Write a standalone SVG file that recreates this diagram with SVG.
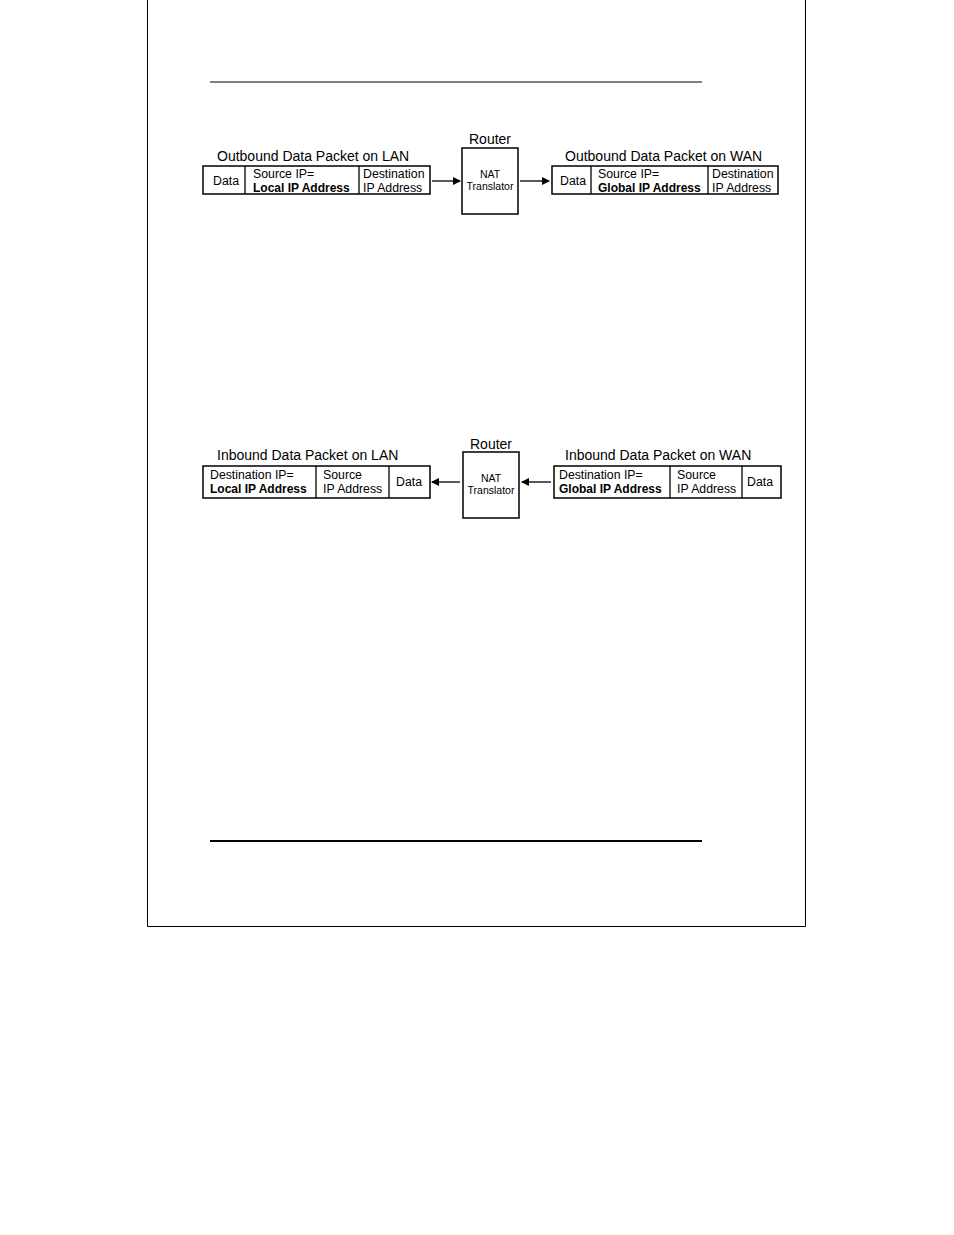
<svg xmlns="http://www.w3.org/2000/svg" width="954" height="1235" viewBox="0 0 954 1235">
<style>
.b{fill:#fff;stroke:#000;stroke-width:1.5}
.l{stroke:#000;stroke-width:1.3}
text{font-family:"Liberation Sans",Arial,sans-serif;fill:#000}
.t{font-size:14px}
.s{font-size:12.3px}
.k{font-size:12px;font-weight:bold}
.n{font-size:10.5px;text-anchor:middle}
</style>
<defs><marker id="a" markerWidth="8" markerHeight="8" refX="7" refY="4" orient="auto" markerUnits="userSpaceOnUse"><path d="M0,0L8,4L0,8z"/></marker></defs>
<rect width="954" height="1235" fill="#fff"/>
<path d="M147.5,0V926.5H805.5V0" fill="none" stroke="#000"/>
<line x1="210" y1="82" x2="702" y2="82" stroke="#000" stroke-width="1.2"/>
<line x1="210" y1="841" x2="702" y2="841" stroke="#000" stroke-width="1.8"/>
<g id="out-lan">
<text x="217" y="161" class="t">Outbound Data Packet on LAN</text>
<rect x="203" y="166" width="227" height="28" class="b"/>
<line x1="245" y1="166" x2="245" y2="194" class="l"/><line x1="359" y1="166" x2="359" y2="194" class="l"/>
<text x="213" y="185" class="s">Data</text>
<text x="253" y="178" class="s">Source IP=</text><text x="253" y="192" class="k">Local IP Address</text>
<text x="363" y="178" class="s">Destination</text><text x="363" y="192" class="s">IP Address</text>
</g>
<g id="router1">
<text x="490" y="144" class="t" text-anchor="middle">Router</text>
<rect x="462" y="148" width="56" height="66" class="b"/>
<text x="490" y="178" class="n">NAT</text><text x="490" y="190" class="n">Translator</text>
</g>
<g id="out-wan">
<text x="565" y="161" class="t">Outbound Data Packet on WAN</text>
<rect x="552" y="166" width="226" height="28" class="b"/>
<line x1="591" y1="166" x2="591" y2="194" class="l"/><line x1="708" y1="166" x2="708" y2="194" class="l"/>
<text x="560" y="185" class="s">Data</text>
<text x="598" y="178" class="s">Source IP=</text><text x="598" y="192" class="k">Global IP Address</text>
<text x="712" y="178" class="s">Destination</text><text x="712" y="192" class="s">IP Address</text>
</g>
<g id="in-lan">
<text x="217" y="460" class="t">Inbound Data Packet on LAN</text>
<rect x="203" y="466" width="227" height="32" class="b"/>
<line x1="316" y1="466" x2="316" y2="498" class="l"/><line x1="389" y1="466" x2="389" y2="498" class="l"/>
<text x="210" y="479" class="s">Destination IP=</text><text x="210" y="493" class="k">Local IP Address</text>
<text x="323" y="479" class="s">Source</text><text x="323" y="493" class="s">IP Address</text>
<text x="396" y="486" class="s">Data</text>
</g>
<g id="router2">
<text x="491" y="449" class="t" text-anchor="middle">Router</text>
<rect x="463" y="452" width="56" height="66" class="b"/>
<text x="491" y="482" class="n">NAT</text><text x="491" y="494" class="n">Translator</text>
</g>
<g id="in-wan">
<text x="565" y="460" class="t">Inbound Data Packet on WAN</text>
<rect x="554" y="466" width="227" height="32" class="b"/>
<line x1="670" y1="466" x2="670" y2="498" class="l"/><line x1="742" y1="466" x2="742" y2="498" class="l"/>
<text x="559" y="479" class="s">Destination IP=</text><text x="559" y="493" class="k">Global IP Address</text>
<text x="677" y="479" class="s">Source</text><text x="677" y="493" class="s">IP Address</text>
<text x="747" y="486" class="s">Data</text>
</g>
<g id="connectors" stroke="#000" stroke-width="1.3">
<line x1="432" y1="181" x2="460" y2="181" marker-end="url(#a)"/>
<line x1="520" y1="181" x2="549" y2="181" marker-end="url(#a)"/>
<line x1="460" y1="482" x2="432" y2="482" marker-end="url(#a)"/>
<line x1="551" y1="482" x2="522" y2="482" marker-end="url(#a)"/>
</g>
</svg>
